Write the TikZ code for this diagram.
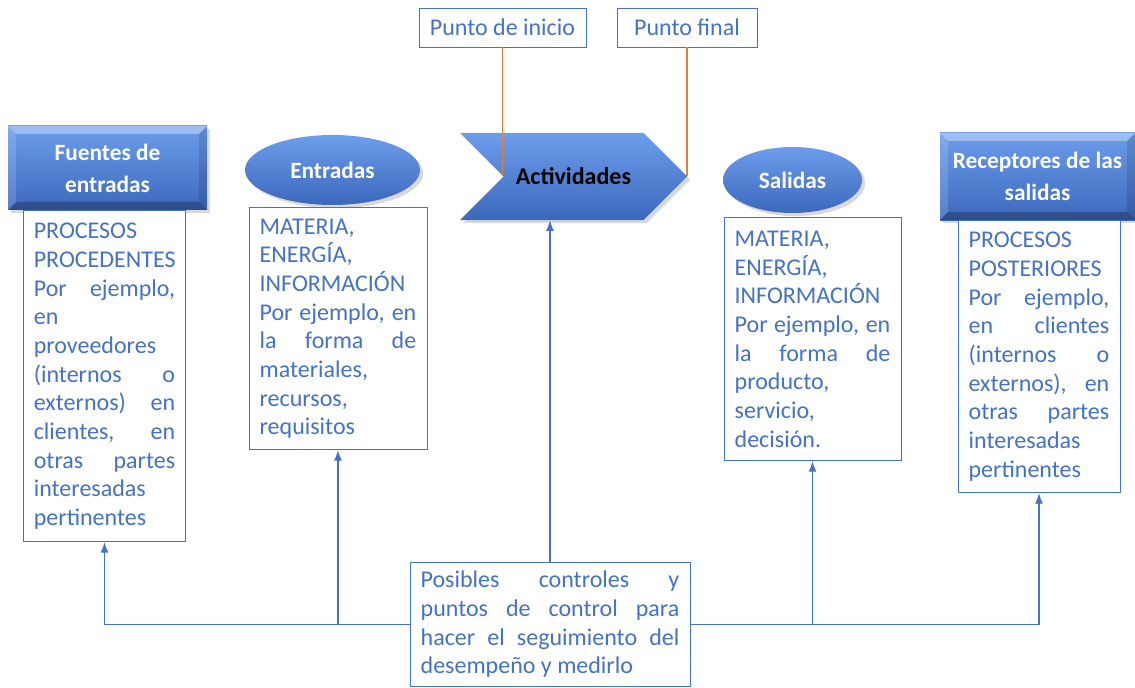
\documentclass[tikz,border=0pt]{standalone}
\usepackage{fontspec}
\setmainfont{Carlito}
\usepackage{tikz}
\usetikzlibrary{arrows,arrows.meta,shapes,shadows,calc,positioning}
\definecolor{ofblue}{HTML}{4472C4}
\definecolor{lightblue}{HTML}{6C9DEB}
\definecolor{darkblue}{HTML}{3C68BC}
\definecolor{oforange}{HTML}{ED7D31}

\begin{document}
\begin{tikzpicture}[x=0.75pt,y=0.75pt]
\tikzstyle{txt}=[rectangle, draw=ofblue, line width=0.6pt, fill=white, text=ofblue, font=\fontsize{18}{21.5}\selectfont, align=justify, inner xsep=8pt, inner ysep=0pt]
\tikzstyle{tag}=[rectangle, draw=ofblue, line width=0.6pt, text=ofblue, font=\fontsize{18}{21.5}\selectfont, minimum height=29.25pt]
\tikzstyle{bevel}=[path picture={
  \coordinate (sw) at (path picture bounding box.south west);
  \coordinate (ne) at (path picture bounding box.north east);
  \fill[white, opacity=0.35] (sw |- ne) -- (ne) -- ($(ne)+(-6pt,-6pt)$) -- ($(sw |- ne)+(6pt,-6pt)$) -- cycle;
  \fill[white, opacity=0.15] (sw) -- (sw |- ne) -- ($(sw |- ne)+(6pt,-6pt)$) -- ($(sw)+(6pt,6pt)$) -- cycle;
  \fill[black, opacity=0.25] (sw) -- (ne |- sw) -- ($(ne |- sw)+(-6pt,6pt)$) -- ($(sw)+(6pt,6pt)$) -- cycle;
  \fill[black, opacity=0.12] (ne |- sw) -- (ne) -- ($(ne)+(-6pt,-6pt)$) -- ($(ne |- sw)+(-6pt,6pt)$) -- cycle;
}]
\tikzstyle{hdr}=[rectangle, top color=lightblue, bottom color=darkblue, text=white, font=\fontsize{17.5}{24}\selectfont\bfseries, align=center, drop shadow={opacity=0.3}, bevel]
\tikzstyle{ell}=[ellipse, top color=lightblue, bottom color=darkblue, text=white, font=\fontsize{17.5}{24}\selectfont\bfseries, drop shadow={opacity=0.3}, inner sep=0pt]
\tikzstyle{act}=[signal, signal to=east, signal from=west, signal pointer angle=90, top color=lightblue, bottom color=darkblue, text=black, font=\fontsize{18}{24}\selectfont\bfseries, drop shadow={opacity=0.3}, inner sep=0pt]
\tikzstyle{connect}=[-{Latex[length=8pt,width=6pt]}, line width=1pt, ofblue]
\tikzstyle{orline}=[line width=1pt, oforange]

\useasboundingbox (0,0) rectangle (1135,-688);

  % headers
  \node[hdr, minimum width=149.25pt, minimum height=63pt] (fuentes) at (107.5,-168) {Fuentes de\\entradas};
  \node[ell, minimum width=131.25pt, minimum height=52.5pt] (entradas) at (332.5,-170) {Entradas};
  \node[act, minimum width=170.25pt, minimum height=65.25pt] (actividades) at (573.5,-176.5) {Actividades};
  \node[ell, minimum width=104.25pt, minimum height=49.5pt] (salidas) at (792.5,-180) {Salidas};
  \node[hdr, minimum width=146.25pt, minimum height=65.25pt] (receptores) at (1037.5,-176.5) {Receptores de las\\salidas};

  \node[tag, minimum width=125.25pt] (inicio) at (502.5,-27.5) {Punto de inicio};
  \node[tag, minimum width=105pt] (final) at (687,-27.5) {Punto final};

  % text boxes
  \node[txt, text width=106pt, minimum height=248.25pt, below=0pt of fuentes, xshift=-2.25pt] (fuentesbox)
    {PROCESOS\\ PROCEDENTES\\ Por ejemplo,\linebreak en\\ proveedores\\ (internos o\linebreak externos) en\linebreak clientes, en\linebreak otras partes\linebreak interesadas\\ pertinentes};
  \node[txt, text width=117.5pt, minimum height=181.5pt, below=1.5pt of entradas, xshift=4.1pt] (entradasbox)
    {MATERIA,\\ ENERGÍA,\\ INFORMACIÓN\\ Por ejemplo, en\linebreak la forma de\linebreak materiales,\\ recursos,\\ requisitos};
  \node[txt, text width=116.75pt, minimum height=182.25pt, below=3pt of salidas, xshift=15pt] (salidasbox)
    {MATERIA,\\ ENERGÍA,\\ INFORMACIÓN\\ Por ejemplo, en\linebreak la forma de\linebreak producto,\\ servicio,\\ decisión.};
  \node[txt, text width=105.5pt, minimum height=204pt, below=0pt of receptores, xshift=1.1pt] (receptoresbox)
    {PROCESOS\\ POSTERIORES\\ Por ejemplo,\linebreak en clientes\linebreak (internos o\linebreak externos), en\linebreak otras partes\linebreak interesadas\\ pertinentes};
  \node[txt, text width=194pt, minimum height=93pt] (control) at (550,-624.5)
    {Posibles controles y\linebreak puntos de control para\linebreak hacer el seguimiento del\linebreak desempeño y medirlo};

  % connectors
  \draw[orline] (inicio.south) -- (inicio.south |- actividades.center);
  \draw[orline] (final.south) -- (final.south |- actividades.center);

  \draw[connect] (control.west) -| (fuentesbox.south);
  \draw[connect] (control.west -| entradasbox.south) -- (entradasbox.south);
  \draw[connect] (control.north) -- (control.north |- actividades.south);
  \draw[connect] (control.east) -| (receptoresbox.south);
  \draw[connect] (control.east -| salidasbox.south) -- (salidasbox.south);

\end{tikzpicture}
\end{document}
